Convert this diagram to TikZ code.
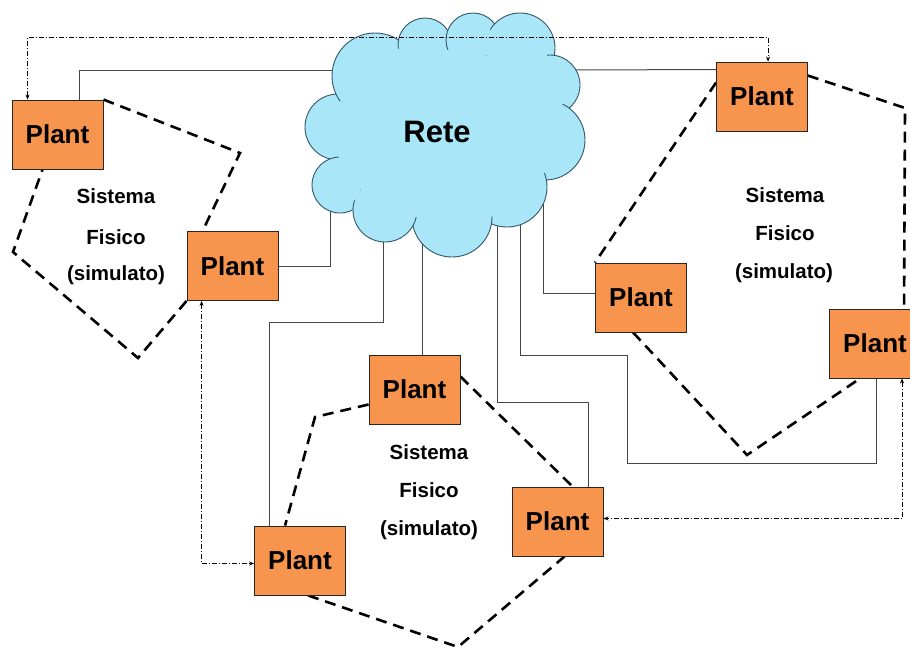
\documentclass[tikz,border=0pt]{standalone}
\usepackage{fontspec}
\setmainfont{Liberation Sans}
\usetikzlibrary{calc,arrows.meta}

\definecolor{plantfill}{RGB}{247,148,78}
\definecolor{cloudfill}{RGB}{168,230,248}
\definecolor{cloudedge}{RGB}{52,88,104}
\definecolor{wirecol}{RGB}{70,70,70}

\tikzset{
  plantbox/.style={draw=black!85, line width=0.9pt, fill=plantfill,
    minimum width=91pt, minimum height=69pt, inner sep=0pt,
    font=\fontsize{26}{26}\selectfont\bfseries},
  wire/.style={draw=wirecol, line width=1pt},
  ctl/.style={draw=black, line width=0.7pt,
    dash pattern=on 5pt off 2pt on 1pt off 2pt,
    {Stealth[length=5pt,width=4pt]}-{Stealth[length=5pt,width=4pt]}},
  sysline/.style={draw=black, line width=2.6pt, dash pattern=on 11pt off 7pt},
  puff/.style={fill=cloudfill, draw=cloudedge, line width=0.9pt},
  lbl/.style={font=\fontsize{20.5}{20.5}\selectfont\bfseries, inner sep=0pt}
}

\begin{document}
\begin{tikzpicture}[x=1pt, y=-1pt]
\useasboundingbox (0,0) rectangle (910,648);

% plant blocks (placed first so they can be referenced)
\path
  (57.5,134.5) coordinate (c1)
  (232.5,266)  coordinate (c2)
  (762,96.5)   coordinate (c3)
  (641,297.5)  coordinate (c4)
  (875,343.5)  coordinate (c5)
  (414.5,389.5) coordinate (c6)
  (300,560.5)  coordinate (c7)
  (557.5,521.5) coordinate (c8);

% attachment points on the network cloud
\coordinate (k1) at (345,70);
\coordinate (k2) at (560,70);
\coordinate (k3) at (330,200);
\coordinate (k4) at (383,220);
\coordinate (k5) at (422,235);
\coordinate (k6) at (497,215);
\coordinate (k7) at (520,215);
\coordinate (k8) at (543,175);

% invisible copies of the blocks for anchors
\foreach \i in {1,...,8} {
  \node[plantbox, draw=none, fill=none, text opacity=0] (p\i) at (c\i) {};
}

% network wiring
\draw[wire] ($(p1.north west)+(68,0)$) |- (k1);
\draw[wire] ($(p3.north west)+(0,8)$) -- (k2);
\draw[wire] (p2.east) -| (k3);
\draw[wire] ($(p7.north west)+(15,0)$) -- ++(0,-203) -| (k4);
\draw[wire] (k5) -- (k5 |- p6.north);
\coordinate (b6) at (588,402);
\draw[wire] (k6) |- (b6) -- (b6 |- p8.north);
\coordinate (b7a) at (627,355);
\coordinate (b7b) at (876,463);
\draw[wire] (k7) |- (b7a) |- (b7b) -- (b7b |- p5.south);
\draw[wire] (k8) |- ($(p4.west)+(0,-4)$);

% network cloud
\foreach \cx/\cy/\r in {338/127/33, 340/185/28, 375/76/43, 425/45/27,
    473/40/27, 520/48/35, 550/85/30, 545/140/40, 507/187/40,
    452/217/40, 385/210/32} {
  \path[puff] (\cx,\cy) circle[radius=\r];
}
\foreach \cx/\cy/\r in {338/127/33, 340/185/28, 375/76/43, 425/45/27,
    473/40/27, 520/48/35, 550/85/30, 545/140/40, 507/187/40,
    452/217/40, 385/210/32} {
  \fill[cloudfill] (\cx,\cy) circle[radius=\r-7];
}
\fill[cloudfill] (445,135) ellipse[x radius=110, y radius=85];
\node[font=\fontsize{31}{31}\selectfont\bfseries] (rete) at (437,132) {Rete};

% boundaries of the simulated physical systems
\draw[sysline] (p1.north east) -- (240,153) -- ($(p2.north west)+(16,0)$);
\draw[sysline] (p2.south west) -- (138,358) -- (13,252) -- ($(p1.south west)+(31,0)$);
\draw[sysline] ($(p3.north west)+(0,21)$) -- (p4.north west);
\draw[sysline] ($(p3.north east)+(0,14)$) -- (905,108) -- ($(p5.north west)+(75,0)$);
\draw[sysline] ($(p4.south west)+(38,0)$) -- (747,455) -- ($(p5.south west)+(31,0)$);
\draw[sysline] ($(p6.west)+(0,15)$) -- (315,417) -- ($(p7.north west)+(31,0)$);
\draw[sysline] ($(p6.north east)+(0,22)$) -- ($(p8.north west)+(61,0)$);
\draw[sysline] ($(p7.south west)+(54,0)$) -- (458,647) -- ($(p8.south west)+(53,0)$);

% plant blocks
\foreach \i in {1,...,8} {
  \node[plantbox] at (c\i) {Plant};
}

% control links between plants
\draw[ctl] ($(p1.north west)+(16,0)$) -- ++(0,-62) -| ($(p3.north west)+(52,0)$);
\draw[ctl] ($(p2.south west)+(15,0)$) |- ($(p7.west)+(0,3)$);
\draw[ctl] ($(p5.south west)+(73,0)$) |- ($(p8.east)+(0,-3)$);

% system captions
\node[lbl] (s1a) at (116,196) {Sistema};
\node[lbl] (s1b) at (116,237) {Fisico};
\node[lbl] (s1c) at (116,275) {(simulato)};
\node[lbl] (s2a) at (785,195) {Sistema};
\node[lbl] (s2b) at (785,233) {Fisico};
\node[lbl] (s2c) at (784,273) {(simulato)};
\node[lbl] (s3a) at (429,452) {Sistema};
\node[lbl] (s3b) at (429,490) {Fisico};
\node[lbl] (s3c) at (429,530) {(simulato)};
\end{tikzpicture}
\end{document}
